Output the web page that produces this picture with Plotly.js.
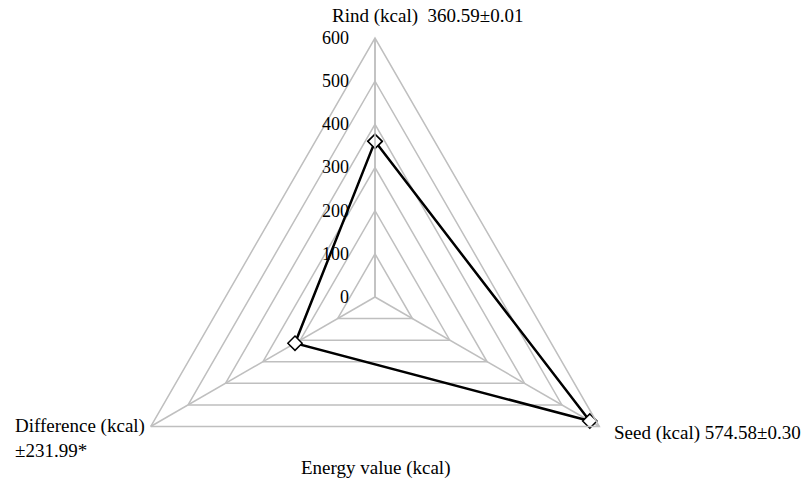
<!DOCTYPE html>
<html>
<head>
<meta charset="utf-8">
<script src="https://cdn.plot.ly/plotly-3.0.1.min.js"></script>
<style>
html,body{margin:0;padding:0;overflow:hidden;background:#fff;}
#chart{width:802px;height:600px;}
</style>
</head>
<body>
<div id="chart"></div>
<script>
// Data
var categories = ["Rind", "Seed", "Difference"];
var energyValues = [360.59, 574.58, 213.99];
var axisLabels = ["Rind (kcal)  360.59±0.01", "Seed (kcal) 574.58±0.30", "Difference (kcal)<br>±231.99*"];
var chartTitle = "Energy value (kcal)";
var radialTicks = [0, 100, 200, 300, 400, 500, 600];

var W = 802, H = 600;
var mL = 116, mR = 168, mT = 38, mB = 44;
var dW = W - mL - mR, dH = H - mT - mB;
function px(x){ return (x - mL) / dW; }
function py(y){ return (H - mB - y) / dH; }

var font = "Liberation Serif, Times New Roman, serif";
var grid = "#bfbfbf";
var fs = 19;

var trace = {
  type: "scatterpolar",
  r: energyValues.concat([energyValues[0]]),
  theta: categories.concat([categories[0]]),
  mode: "lines+markers",
  line: {color: "#000", width: 2.5},
  marker: {symbol: "diamond", size: 11, color: "#fff", line: {color: "#000", width: 1.5}},
  cliponaxis: false,
  hoverinfo: "skip"
};

var labelPos = [
  {x: 330, y: 16, xa: "left"},
  {x: 612, y: 433, xa: "left"},
  {x: 13, y: 438, xa: "left"}
];
var annotations = axisLabels.map(function(t, i){
  return {text: t, xref: "paper", yref: "paper", x: px(labelPos[i].x), y: py(labelPos[i].y),
    xanchor: labelPos[i].xa, yanchor: "middle", align: "left", showarrow: false,
    font: {family: font, size: fs, color: "#000"}};
});
annotations.push({text: chartTitle, xref: "paper", yref: "paper", x: px(375), y: py(468),
  xanchor: "center", yanchor: "middle", showarrow: false,
  font: {family: font, size: fs, color: "#000"}});

var layout = {
  width: W, height: H,
  margin: {l: mL, r: mR, t: mT, b: mB, pad: 0},
  paper_bgcolor: "#fff",
  showlegend: false,
  font: {family: font, size: fs, color: "#000"},
  polar: {
    domain: {x: [0, 1], y: [0, 1]},
    bgcolor: "#fff",
    gridshape: "linear",
    radialaxis: {
      range: [0, 600],
      tickvals: radialTicks,
      ticktext: radialTicks.map(String),
      angle: 90,
      tickangle: 90,
      side: "counterclockwise",
      showline: true,
      linecolor: grid,
      linewidth: 1.5,
      gridcolor: grid,
      gridwidth: 1.5,
      ticks: "outside",
      ticklen: 19,
      tickcolor: "rgba(0,0,0,0)",
      tickfont: {family: font, size: 18, color: "#000"}
    },
    angularaxis: {
      categoryarray: categories,
      rotation: 90,
      direction: "clockwise",
      showline: true,
      linecolor: grid,
      linewidth: 1.5,
      gridcolor: grid,
      gridwidth: 1.5,
      showticklabels: false,
      ticks: ""
    }
  },
  annotations: annotations
};

Plotly.newPlot("chart", [trace], layout, {displayModeBar: false, staticPlot: true});
</script>
</body>
</html>
